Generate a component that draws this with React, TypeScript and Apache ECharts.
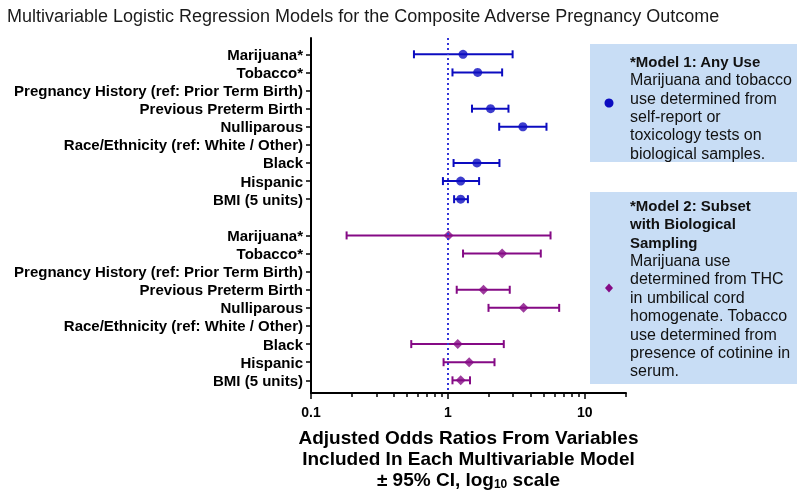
import React, { useEffect, useRef } from 'react';
import * as echarts from 'echarts';

const titleText = 'Multivariable Logistic Regression Models for the Composite Adverse Pregnancy Outcome';

const rowLabels = [
  'Marijuana*',
  'Tobacco*',
  'Pregnancy History (ref: Prior Term Birth)',
  'Previous Preterm Birth',
  'Nulliparous',
  'Race/Ethnicity (ref: White / Other)',
  'Black',
  'Hispanic',
  'BMI (5 units)',
];

// Model 1: Any Use
const model1OR = [1.29, 1.65, null, 2.05, 3.53, null, 1.63, 1.24, 1.24];
const model1Low = [0.565, 1.08, null, 1.5, 2.37, null, 1.1, 0.92, 1.11];
const model1High = [2.97, 2.49, null, 2.77, 5.25, null, 2.38, 1.69, 1.4];

// Model 2: Subset with Biological Sampling
const model2OR = [1.01, 2.49, null, 1.82, 3.57, null, 1.18, 1.43, 1.24];
const model2Low = [0.182, 1.29, null, 1.16, 1.98, null, 0.54, 0.93, 1.08];
const model2High = [5.62, 4.77, null, 2.83, 6.5, null, 2.56, 2.19, 1.45];

const xMajorTicks = [0.1, 1, 10];
const xMinorTicks = [0.2, 0.3, 0.4, 0.5, 0.6, 0.7, 0.8, 0.9, 2, 3, 4, 5, 6, 7, 8, 9, 20];

const legend1Title = '*Model 1: Any Use';
const legend1Body = ['Marijuana and tobacco', 'use determined from', 'self-report or', 'toxicology tests on', 'biological samples.'];
const legend2Title = ['*Model 2: Subset', 'with Biological', 'Sampling'];
const legend2Body = [
  'Marijuana use',
  'determined from THC',
  'in umbilical cord',
  'homogenate. Tobacco',
  'use determined from',
  'presence of cotinine in',
  'serum.',
];

const BLUE = '#0c0cc0';
const PURPLE = '#850a85';
const DOT = '#3535d8';
const BOX = '#c8ddf5';
const FONT = '"Liberation Sans", Arial, sans-serif';

const n = rowLabels.length;
const rowOf = (model: number, i: number) => (model === 1 ? i : i + n + 1);
const rowIndices: number[] = [];
for (let i = 0; i < n; i++) rowIndices.push(rowOf(1, i));
for (let i = 0; i < n; i++) rowIndices.push(rowOf(2, i));

function pointData(model: number, or: (number | null)[]) {
  const out: number[][] = [];
  or.forEach((v, i) => {
    if (v != null) out.push([v, rowOf(model, i)]);
  });
  return out;
}
function barData(model: number, lo: (number | null)[], hi: (number | null)[]) {
  const out: number[][] = [];
  lo.forEach((v, i) => {
    const h = hi[i];
    if (v != null && h != null) out.push([v, h, rowOf(model, i)]);
  });
  return out;
}

function errorBarSeries(data: number[][], color: string, withRef: boolean) {
  const s: any = {
    type: 'custom',
    xAxisIndex: 0,
    yAxisIndex: 0,
    z: 2,
    data,
    encode: { x: [0, 1], y: 2 },
    renderItem: (params: any, api: any) => {
      const lo = api.coord([api.value(0), api.value(2)]);
      const hi = api.coord([api.value(1), api.value(2)]);
      const cap = 4;
      const style = { stroke: color, lineWidth: 2 };
      return {
        type: 'group',
        children: [
          { type: 'line', shape: { x1: lo[0], y1: lo[1], x2: hi[0], y2: hi[1] }, style },
          { type: 'line', shape: { x1: lo[0], y1: lo[1] - cap, x2: lo[0], y2: lo[1] + cap }, style },
          { type: 'line', shape: { x1: hi[0], y1: hi[1] - cap, x2: hi[0], y2: hi[1] + cap }, style },
        ],
      };
    },
  };
  if (withRef) {
    s.markLine = {
      silent: true,
      symbol: 'none',
      label: { show: false },
      lineStyle: { type: [2, 3], color: DOT, width: 2 },
      data: [{ xAxis: 1 }],
    };
  }
  return s;
}

export default function App() {
  const ref = useRef<HTMLDivElement>(null);
  useEffect(() => {
    const chart = echarts.init(ref.current!, null, { renderer: 'svg' });
    const richLegend = {
      b: { fontSize: 15, fontWeight: 'bold', fontFamily: FONT, lineHeight: 18.4, fill: '#111' },
      r: { fontSize: 16, fontFamily: FONT, lineHeight: 18.4, fill: '#111' },
    };
    const option: any = {
      animation: false,
      textStyle: { fontFamily: FONT },
      title: {
        text: titleText,
        left: 2,
        top: 2,
        textStyle: { fontFamily: FONT, fontSize: 18, fontWeight: 'normal', color: '#1a1a1a' },
      },
      grid: { left: 311, right: 174, top: 38, bottom: 102 },
      xAxis: [
        {
          type: 'log',
          logBase: 10,
          min: 0.1,
          max: 20,
          position: 'bottom',
          splitLine: { show: false },
          axisLine: { show: true, onZero: false, lineStyle: { color: '#000', width: 2 } },
          axisTick: { show: true, customValues: xMajorTicks, length: 6, lineStyle: { color: '#000', width: 1.5 } },
          axisLabel: {
            customValues: xMajorTicks,
            formatter: (v: number) => String(v),
            margin: 12,
            fontSize: 14,
            fontWeight: 'bold',
            color: '#000',
            fontFamily: FONT,
          },
          name:
            '{a|Adjusted Odds Ratios From Variables}\n{a|Included In Each Multivariable Model}\n{a|± 95% CI, log}{s|10}{a| scale}',
          nameLocation: 'middle',
          nameGap: 34,
          nameTextStyle: {
            fontFamily: FONT,
            rich: {
              a: { fontSize: 19, fontWeight: 'bold', color: '#000', lineHeight: 21, fontFamily: FONT },
              s: { fontSize: 12, fontWeight: 'bold', color: '#000', lineHeight: 12, verticalAlign: 'bottom', fontFamily: FONT },
            },
          },
        },
        {
          type: 'log',
          logBase: 10,
          min: 0.1,
          max: 20,
          position: 'bottom',
          offset: 0,
          splitLine: { show: false },
          axisLine: { show: false, onZero: false },
          axisTick: { show: true, customValues: xMinorTicks, length: 4, lineStyle: { color: '#000', width: 1.5 } },
          axisLabel: { show: false },
        },
      ],
      yAxis: {
        type: 'value',
        inverse: true,
        min: -0.9,
        max: 18.7,
        splitLine: { show: false },
        axisLine: { show: true, onZero: false, lineStyle: { color: '#000', width: 2 } },
        axisTick: { show: true, customValues: rowIndices, length: 5, lineStyle: { color: '#000', width: 1.5 } },
        axisLabel: {
          customValues: rowIndices,
          formatter: (v: number) => {
            const i = Math.round(v);
            return i <= n - 1 ? rowLabels[i] : rowLabels[i - n - 1] || '';
          },
          margin: 8,
          fontSize: 15,
          fontWeight: 'bold',
          color: '#000',
          fontFamily: FONT,
        },
      },
      series: [
        errorBarSeries(barData(1, model1Low, model1High), BLUE, true),
        errorBarSeries(barData(2, model2Low, model2High), PURPLE, false),
        {
          type: 'scatter',
          name: 'Model 1',
          xAxisIndex: 0,
          yAxisIndex: 0,
          z: 3,
          symbol: 'circle',
          symbolSize: 9,
          itemStyle: { color: BLUE },
          data: pointData(1, model1OR),
        },
        {
          type: 'scatter',
          name: 'Model 2',
          xAxisIndex: 0,
          yAxisIndex: 0,
          z: 3,
          symbol: 'diamond',
          symbolSize: 10,
          itemStyle: { color: PURPLE },
          data: pointData(2, model2OR),
        },
      ],
      graphic: [
        { type: 'rect', shape: { x: 590, y: 44, width: 207, height: 118 }, style: { fill: BOX } },
        { type: 'rect', shape: { x: 590, y: 192, width: 207, height: 192 }, style: { fill: BOX } },
        { type: 'circle', shape: { cx: 609, cy: 103, r: 4.5 }, style: { fill: BLUE } },
        {
          type: 'polygon',
          shape: { points: [[609, 283.5], [613, 288], [609, 292.5], [605, 288]] },
          style: { fill: PURPLE },
        },
        {
          type: 'text',
          x: 630,
          y: 52,
          style: {
            text: '{b|' + legend1Title + '}\n' + legend1Body.map((t) => '{r|' + t + '}').join('\n'),
            fill: '#111',
            font: '16px ' + FONT,
            lineHeight: 18.4,
            rich: richLegend,
          },
        },
        {
          type: 'text',
          x: 630,
          y: 196,
          style: {
            text:
              legend2Title.map((t) => '{b|' + t + '}').join('\n') +
              '\n' +
              legend2Body.map((t) => '{r|' + t + '}').join('\n'),
            fill: '#111',
            font: '16px ' + FONT,
            lineHeight: 18.4,
            rich: richLegend,
          },
        },
      ],
    };
    chart.setOption(option);
    return () => chart.dispose();
  }, []);
  return <div ref={ref} style={{ position: 'fixed', left: 0, top: 0, width: 800, height: 495 }} />;
}
